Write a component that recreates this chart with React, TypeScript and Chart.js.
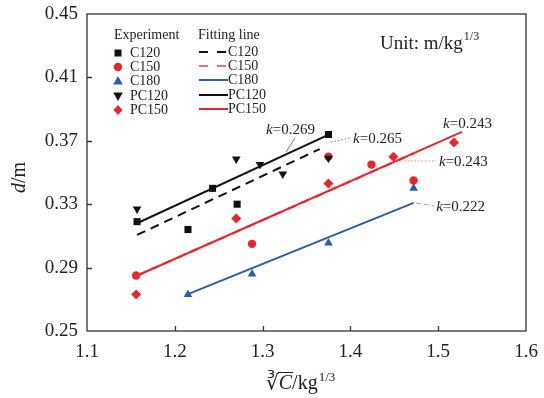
import React, { useEffect, useRef } from 'react';
import { Chart, registerables } from 'chart.js';
Chart.register(...registerables);

const SERIF = '"Liberation Serif", "Times New Roman", serif';

// Experimental data (x = cube root of charge, kg^1/3; y = d, m)
const C120_X = [1.157, 1.215, 1.243, 1.271, 1.375];
const C120_Y = [0.319, 0.314, 0.340, 0.330, 0.374];
const C150_X = [1.156, 1.288, 1.375, 1.424, 1.472];
const C150_Y = [0.285, 0.305, 0.360, 0.355, 0.345];
const C180_X = [1.215, 1.288, 1.375, 1.472];
const C180_Y = [0.273, 0.286, 0.3055, 0.340];
const PC120_X = [1.157, 1.270, 1.297, 1.323, 1.375];
const PC120_Y = [0.327, 0.3585, 0.355, 0.349, 0.359];
const PC150_X = [1.156, 1.270, 1.375, 1.449, 1.518];
const PC150_Y = [0.273, 0.321, 0.343, 0.360, 0.369];

// Fitting lines (end points)
const FIT_C120_X = [1.157, 1.365];
const FIT_C120_Y = [0.3106, 0.3648];
const FIT_C150_X = [1.156, 1.472];
const FIT_C150_Y = [0.2847, 0.362];
const FIT_C180_X = [1.215, 1.472];
const FIT_C180_Y = [0.2733, 0.3308];
const FIT_PC120_X = [1.157, 1.376];
const FIT_PC120_Y = [0.318, 0.374];
const FIT_PC150_X = [1.156, 1.527];
const FIT_PC150_Y = [0.2847, 0.3756];

const X_MIN = 1.1, X_MAX = 1.6, X_STEP = 0.1;
const Y_MIN = 0.25, Y_MAX = 0.45, Y_STEP = 0.04;

const K_LABELS = ['0.269', '0.265', '0.243', '0.243', '0.222'];

const BLACK = '#111111';
const RED = '#e8262b';
const BLUE = '#2b5cb0';

const pts = (xs: number[], ys: number[]) => xs.map((x, i) => ({ x, y: ys[i] }));

function drawMarker(ctx: CanvasRenderingContext2D, kind: string, x: number, y: number, color: string) {
  ctx.save();
  ctx.fillStyle = color;
  ctx.beginPath();
  if (kind === 'square') {
    ctx.rect(x - 3.5, y - 3.5, 7, 7);
  } else if (kind === 'circle') {
    ctx.arc(x, y, 4.2, 0, Math.PI * 2);
  } else if (kind === 'tri') {
    ctx.moveTo(x, y - 5);
    ctx.lineTo(x + 4.8, y + 3.5);
    ctx.lineTo(x - 4.8, y + 3.5);
  } else if (kind === 'triDown') {
    ctx.moveTo(x, y + 5);
    ctx.lineTo(x + 4.8, y - 3.5);
    ctx.lineTo(x - 4.8, y - 3.5);
  } else if (kind === 'diamond') {
    ctx.moveTo(x, y - 5);
    ctx.lineTo(x + 4.5, y);
    ctx.lineTo(x, y + 5);
    ctx.lineTo(x - 4.5, y);
  }
  ctx.closePath();
  ctx.fill();
  ctx.restore();
}

function drawK(ctx: CanvasRenderingContext2D, text: string, x: number, y: number) {
  ctx.save();
  ctx.fillStyle = '#222';
  ctx.textBaseline = 'middle';
  ctx.textAlign = 'left';
  ctx.font = `italic 15px ${SERIF}`;
  ctx.fillText('k', x, y);
  const w = ctx.measureText('k').width;
  ctx.font = `15px ${SERIF}`;
  ctx.fillText('=' + text, x + w, y);
  ctx.restore();
}

const customPlugin = {
  id: 'custom',
  afterDraw(chart: any) {
    const { ctx, chartArea: a, scales } = chart;
    const xs = scales.x, ys = scales.y;
    const X = (v: number) => xs.getPixelForValue(v);
    const Y = (v: number) => ys.getPixelForValue(v);
    ctx.save();
    // frame
    ctx.strokeStyle = '#333';
    ctx.lineWidth = 1.3;
    ctx.strokeRect(a.left, a.top, a.right - a.left, a.bottom - a.top);
    // inward ticks
    ctx.beginPath();
    for (let v = X_MIN + X_STEP; v < X_MAX - 1e-9; v += X_STEP) {
      const px = Math.round(X(v)) + 0.5;
      ctx.moveTo(px, a.bottom);
      ctx.lineTo(px, a.bottom - 5);
    }
    for (let v = Y_MIN + Y_STEP; v < Y_MAX - 1e-9; v += Y_STEP) {
      const py = Math.round(Y(v)) + 0.5;
      ctx.moveTo(a.left, py);
      ctx.lineTo(a.left + 5, py);
    }
    ctx.stroke();

    // annotation leaders
    ctx.lineWidth = 1;
    ctx.strokeStyle = '#777';
    ctx.setLineDash([]);
    ctx.beginPath();
    ctx.moveTo(X(1.3369), Y(0.3718));
    ctx.lineTo(X(1.3267), Y(0.3629));
    ctx.stroke();
    ctx.setLineDash([1.5, 2]);
    ctx.beginPath();
    ctx.moveTo(X(1.378), Y(0.3692));
    ctx.lineTo(X(1.3995), Y(0.3718));
    ctx.stroke();
    ctx.strokeStyle = '#f08080';
    ctx.beginPath();
    ctx.moveTo(X(1.453), Y(0.3573));
    ctx.lineTo(X(1.4977), Y(0.3573));
    ctx.stroke();
    ctx.strokeStyle = '#8aa6d8';
    ctx.setLineDash([5, 3]);
    ctx.beginPath();
    ctx.moveTo(X(1.4747), Y(0.3308));
    ctx.lineTo(X(1.4952), Y(0.3289));
    ctx.stroke();
    ctx.setLineDash([]);

    drawK(ctx, K_LABELS[0], X(1.3039), Y(0.3768));
    drawK(ctx, K_LABELS[1], X(1.403), Y(0.3711));
    drawK(ctx, K_LABELS[2], X(1.5055), Y(0.3806));
    drawK(ctx, K_LABELS[3], X(1.5009), Y(0.3566));
    drawK(ctx, K_LABELS[4], X(1.4977), Y(0.3282));

    // Legend
    const L = a.left, T = a.top;
    ctx.fillStyle = '#222';
    ctx.textBaseline = 'middle';
    ctx.textAlign = 'left';
    ctx.font = `14px ${SERIF}`;
    ctx.fillText('Experiment', L + 27, T + 21);
    ctx.fillText('Fitting line', L + 111, T + 21);
    const rows = [39, 53, 67, 82, 96];
    const names = ['C120', 'C150', 'C180', 'PC120', 'PC150'];
    const kinds = ['square', 'circle', 'tri', 'triDown', 'diamond'];
    const mcol = [BLACK, RED, BLUE, BLACK, RED];
    const lcol = [BLACK, '#f26d6d', BLUE, BLACK, RED];
    const ldash = [[9, 9], [9, 9], [], [], []];
    rows.forEach((r, i) => {
      drawMarker(ctx, kinds[i], L + 31, T + r, mcol[i]);
      ctx.fillStyle = '#222';
      ctx.fillText(names[i], L + 43, T + r);
      ctx.strokeStyle = lcol[i];
      ctx.lineWidth = 2;
      ctx.setLineDash(ldash[i]);
      ctx.beginPath();
      ctx.moveTo(L + 112, T + r - 1);
      ctx.lineTo(L + 141, T + r - 1);
      ctx.stroke();
      ctx.setLineDash([]);
      ctx.fillText(names[i], L + 141, T + r - 1);
    });

    // Unit text
    ctx.font = `19px ${SERIF}`;
    ctx.fillStyle = '#222';
    const ux = 380, uy = a.top + 30;
    ctx.fillText('Unit: m/kg', ux, uy);
    const uw = ctx.measureText('Unit: m/kg').width;
    ctx.font = `12px ${SERIF}`;
    ctx.fillText('1/3', ux + uw + 1, uy - 7);

    // Y title: d/m
    ctx.save();
    ctx.translate(20, (a.top + a.bottom) / 2 + 5);
    ctx.rotate(-Math.PI / 2);
    ctx.textAlign = 'left';
    ctx.textBaseline = 'middle';
    ctx.font = `italic 20px ${SERIF}`;
    const dw = ctx.measureText('d').width;
    ctx.font = `20px ${SERIF}`;
    const mw = ctx.measureText('/m').width;
    const start = -(dw + mw) / 2;
    ctx.font = `italic 20px ${SERIF}`;
    ctx.fillText('d', start, 0);
    ctx.font = `20px ${SERIF}`;
    ctx.fillText('/m', start + dw, 0);
    ctx.restore();

    // X title: cube-root C / kg^1/3
    ctx.save();
    ctx.textBaseline = 'alphabetic';
    ctx.textAlign = 'left';
    const by = 389;
    ctx.font = `20px ${SERIF}`;
    const rad = '\u221B';
    const rw = ctx.measureText(rad).width;
    ctx.font = `italic 20px ${SERIF}`;
    const cw = ctx.measureText('C').width;
    ctx.font = `20px ${SERIF}`;
    const kw = ctx.measureText('/kg').width;
    ctx.font = `13px ${SERIF}`;
    const sw = ctx.measureText('1/3').width;
    const total = rw + cw + kw + sw + 1;
    let x0 = (a.left + a.right) / 2 - total / 2 - 6;
    ctx.font = `20px ${SERIF}`;
    ctx.fillText(rad, x0, by);
    x0 += rw;
    ctx.font = `italic 20px ${SERIF}`;
    ctx.fillText('C', x0, by);
    ctx.strokeStyle = '#222';
    ctx.lineWidth = 1;
    ctx.beginPath();
    ctx.moveTo(x0 - 1, by - 16.5);
    ctx.lineTo(x0 + cw + 1, by - 16.5);
    ctx.stroke();
    x0 += cw;
    ctx.font = `20px ${SERIF}`;
    ctx.fillText('/kg', x0, by);
    x0 += kw + 1;
    ctx.font = `13px ${SERIF}`;
    ctx.fillText('1/3', x0, by - 8);
    ctx.restore();

    ctx.restore();
  },
};

export default function App() {
  const ref = useRef<HTMLCanvasElement>(null);
  useEffect(() => {
    document.body.style.margin = '0';
    const canvas = ref.current!;
    const pointDs = (data: any, style: string, color: string, radius: number, rotation = 0, order = 1) => ({
      type: 'scatter' as const,
      data,
      pointStyle: style,
      pointRadius: radius,
      pointRotation: rotation,
      backgroundColor: color,
      borderColor: color,
      borderWidth: 0,
      showLine: false,
      order,
    });
    const lineDs = (data: any, color: string, dash: number[]) => ({
      type: 'scatter' as const,
      data,
      showLine: true,
      pointRadius: 0,
      borderColor: color,
      borderWidth: 2,
      borderDash: dash,
      backgroundColor: color,
      fill: false,
      order: 3,
    });
    const chart = new Chart(canvas, {
      type: 'scatter',
      data: {
        datasets: [
          lineDs(pts(FIT_C120_X, FIT_C120_Y), BLACK, [9, 6]),
          lineDs(pts(FIT_C150_X, FIT_C150_Y), RED, [9, 6]),
          lineDs(pts(FIT_C180_X, FIT_C180_Y), BLUE, []),
          lineDs(pts(FIT_PC120_X, FIT_PC120_Y), BLACK, []),
          lineDs(pts(FIT_PC150_X, FIT_PC150_Y), RED, []),
          pointDs(pts(C120_X, C120_Y), 'rect', BLACK, 5),
          pointDs(pts(C150_X, C150_Y), 'circle', RED, 4.2, 0, 2),
          pointDs(pts(C180_X, C180_Y), 'triangle', BLUE, 5),
          pointDs(pts(PC120_X, PC120_Y), 'triangle', BLACK, 5, 180),
          pointDs(pts(PC150_X, PC150_Y), 'rectRot', RED, 5),
        ] as any,
      },
      options: {
        responsive: false,
        animation: false,
        layout: { padding: { left: 0, top: 14, right: 18, bottom: 0 } },
        plugins: { legend: { display: false }, tooltip: { enabled: false } },
        scales: {
          x: {
            type: 'linear',
            min: X_MIN,
            max: X_MAX,
            grid: { display: false, drawTicks: false },
            border: { display: false },
            ticks: {
              stepSize: X_STEP,
              padding: 10,
              color: '#222',
              font: { family: SERIF, size: 19 },
              callback: (v: any) => Number(v).toFixed(1),
            },
            afterFit: (s: any) => { s.height = 67; s.paddingLeft = 0; s.paddingRight = 0; },
          },
          y: {
            type: 'linear',
            min: Y_MIN,
            max: Y_MAX,
            grid: { display: false, drawTicks: false },
            border: { display: false },
            ticks: {
              stepSize: Y_STEP,
              padding: 9,
              color: '#222',
              font: { family: SERIF, size: 19 },
              callback: (v: any) => Number(v).toFixed(2),
            },
            afterFit: (s: any) => { s.width = 87; s.paddingTop = 0; s.paddingBottom = 0; },
          },
        },
      },
      plugins: [customPlugin],
    });
    return () => chart.destroy();
  }, []);
  return (
    <div style={{ width: 544, height: 398 }}>
      <canvas ref={ref} width={544} height={398} style={{ display: 'block' }} />
    </div>
  );
}
